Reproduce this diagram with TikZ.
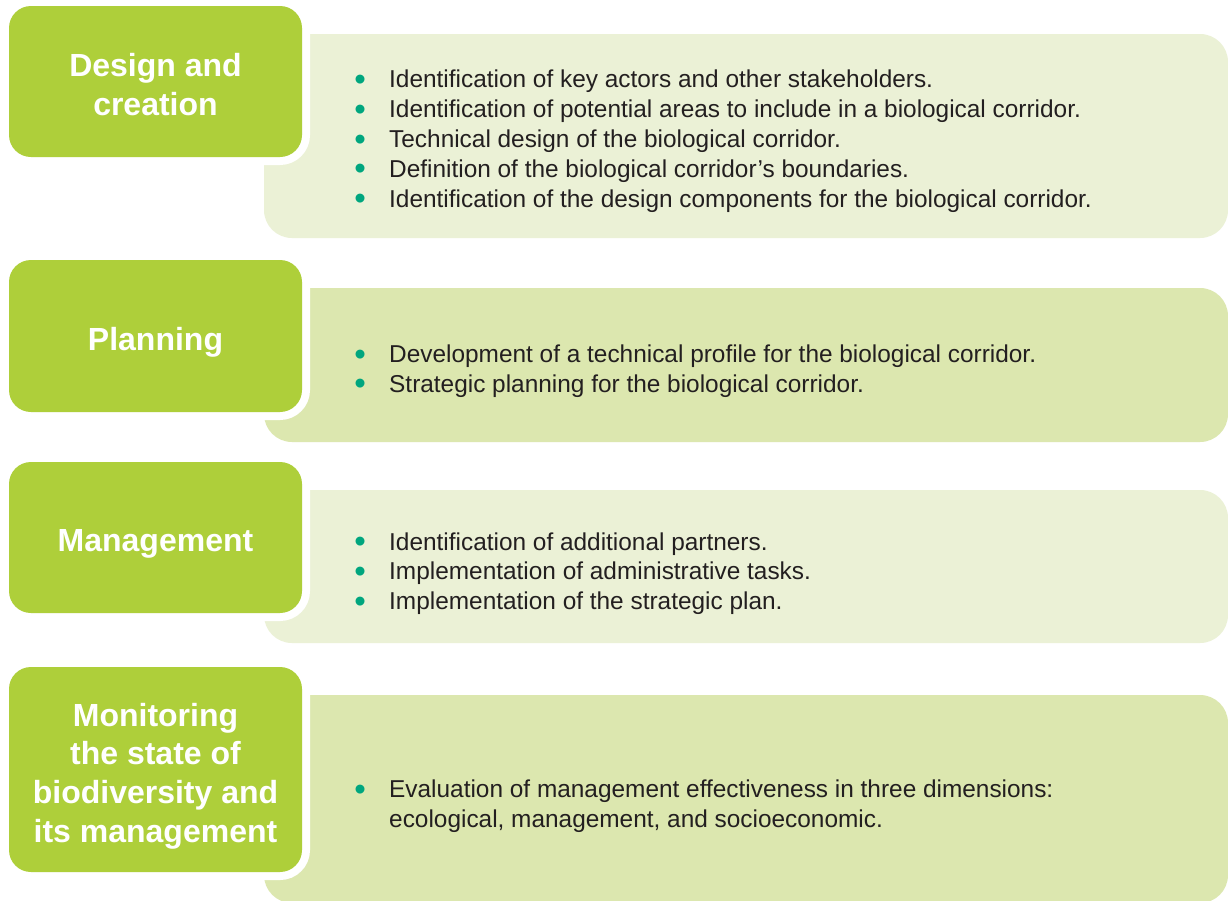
\documentclass[tikz,border=0pt]{standalone}
\usepackage{graphicx}
\usepackage{fontspec}
\setmainfont{Liberation Sans}
\definecolor{leaf}{HTML}{AECF3A}
\definecolor{paleA}{HTML}{EBF1D6}
\definecolor{paleB}{HTML}{DCE7AF}
\definecolor{dotc}{HTML}{00A67E}
\definecolor{ink}{HTML}{231F20}
\newcommand\bul{\makebox[34.8pt][l]{\raisebox{-2.6pt}{\scalebox{1.35}{\textcolor{dotc}{•}}}}}
\tikzset{
  stage/.style={rectangle, rounded corners=22pt, fill=leaf, minimum width=293pt,
    inner sep=0pt, preaction={draw=white, line width=16pt}},
  title/.style={inner sep=0pt, text=white, font=\fontsize{32}{38.7}\selectfont\bfseries,
    align=center, text depth=0pt, yshift=-3pt},
  panel/.style={rectangle, rounded corners=28pt, minimum width=964pt, inner sep=0pt},
  items/.style={anchor=west, inner sep=0pt, text=ink, font=\fontsize{24.4}{29.8}\selectfont}
}
\begin{document}
\begin{tikzpicture}[x=1pt,y=-1pt]
\useasboundingbox[fill=white] (0,0) rectangle (1228,900);
% panels
\node[panel, fill=paleA, minimum height=204pt] (p1) at (746,136) {};
\node[panel, fill=paleB, minimum height=154pt] (p2) at (746,365) {};
\node[panel, fill=paleA, minimum height=153pt] (p3) at (746,566.5) {};
\node[panel, fill=paleB, minimum height=208pt] (p4) at (746,799) {};
% stages
\node[stage, minimum height=151pt] (s1) at (155.5,81.5) {};
\node[stage, minimum height=152pt] (s2) at (155.5,336) {};
\node[stage, minimum height=151pt] (s3) at (155.5,537.5) {};
\node[stage, minimum height=205pt] (s4) at (155.5,769.5) {};
\node[title] (h1) at (s1.center) {Design and\\creation};
\node[title] (h2) at (s2.center) {Planning};
\node[title] (h3) at (s3.center) {Management};
\node[title] (h4) at (s4.center) {Monitoring\\the state of\\biodiversity and\\its management};
% items
\node[items] (t1) at (354.2,141.5) {\begin{tabular}{@{}l@{}l@{}}
\bul & Identification of key actors and other stakeholders.\\
\bul & Identification of potential areas to include in a biological corridor.\\
\bul & Technical design of the biological corridor.\\
\bul & Definition of the biological corridor’s boundaries.\\
\bul & Identification of the design components for the biological corridor.
\end{tabular}};
\node[items] (t2) at (354.2,371.5) {\begin{tabular}{@{}l@{}l@{}}
\bul & Development of a technical profile for the biological corridor.\\
\bul & Strategic planning for the biological corridor.
\end{tabular}};
\node[items] (t3) at (354.2,574) {\begin{tabular}{@{}l@{}l@{}}
\bul & Identification of additional partners.\\
\bul & Implementation of administrative tasks.\\
\bul & Implementation of the strategic plan.
\end{tabular}};
\node[items] (t4) at (354.2,806.5) {\begin{tabular}{@{}l@{}l@{}}
\bul & Evaluation of management effectiveness in three dimensions:\\
 & ecological, management, and socioeconomic.
\end{tabular}};
\end{tikzpicture}
\end{document}
